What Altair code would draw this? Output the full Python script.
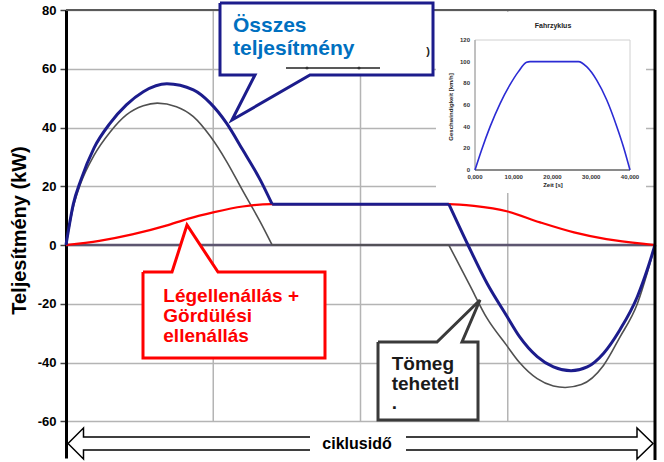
import altair as alt
import pandas as pd

FONT = "Liberation Sans"

# ---------------- data ----------------
# time within one driving cycle (s) and power (kW)
total_t = [0, 0.5, 1.0, 1.9, 3.0, 4.1, 5.25, 6.85, 8.65, 9.8, 10.9, 12.0, 13.2, 14.0,
           26.0, 27.3, 28.6, 29.9, 30.8, 32.0, 33.1, 34.3, 35.4, 36.5, 37.6, 38.8, 39.5, 40]
total_kw = [0, 14, 22, 33, 41.5, 47.7, 52.2, 54.9, 52.8, 48.3, 41.5, 32.4, 22.1, 13.9,
            13.9, 0, -13.1, -23.9, -31.2, -38, -41.5, -42.8, -41.5, -36.9, -29, -17.6, -8, 0]

inertia_t = [0, 0.5, 1.0, 1.9, 3.0, 4.1, 5.25, 6.2, 7.5, 8.65, 9.8, 10.9, 12.0, 13.2, 14.0,
             26.0, 27.4, 28.6, 29.9, 30.8, 32.0, 33.1, 33.9, 35.0, 36.5, 37.6, 38.8, 39.5, 40]
inertia_kw = [0, 13, 21, 30.5, 38.5, 44.3, 47.4, 48.3, 47.1, 43.7, 37, 28.5, 18.5, 7.8, 0,
              0, -13.5, -25, -34, -40, -45.5, -48, -48.5, -47.5, -41, -31.5, -20, -9, 0]

resist_t = [0, 2.26, 4.5, 6.8, 8.26, 10.0, 12.0, 13.9, 26.0, 27.7, 30.0, 32.2, 34.5, 36.7, 39.4, 40]
resist_kw = [0, 1.4, 3.6, 6.6, 8.9, 11.1, 13.1, 13.9, 13.9, 13.3, 11.4, 7.7, 4.3, 2.0, 0.3, 0]

corner_t = [14.0, 26.0]          # sharp corners at start / end of the constant-speed phase
y_ticks = [-60, -40, -20, 0, 20, 40, 60, 80]
x_grid = [10, 20, 30]

# inset "Fahrzyklus": speed profile
cycle_s = [0, 1.7, 3.9, 6.5, 9.0, 11.2, 13.3, 14.2, 26.7, 28.8, 31.4, 34.0, 36.6, 38.3, 40]
speed_kmh = [0, 18.5, 40, 61.5, 78.5, 90.8, 99.4, 100, 100, 95.4, 83, 64.6, 40, 21.5, 0]
inset_speed_ticks = [0, 20, 40, 60, 80, 100, 120]
inset_time_ticks = [0, 10, 20, 30, 40]
inset_time_labels = ["0,000", "10,000", "20,000", "30,000", "40,000"]

# annotation texts
total_label = ["Összes", "teljesítmény"]
resist_label = ["Légellenállás +", "Gördülési", "ellenállás"]
inertia_label = ["Tömeg", "tehetetl", "."]
cycle_label = "ciklusidő"
y_title = "Teljesítmény (kW)"

# ---------------- scales ----------------
X = alt.Scale(domain=[0, 40], nice=False, zero=False)
Y = alt.Scale(domain=[-72.5, 80], nice=False, zero=False)
IX = alt.Scale(domain=[0, 40], range=[409, 564], nice=False, zero=False)
IY = alt.Scale(domain=[0, 120], range=[160, 30], nice=False, zero=False)


def xq(f):
    return alt.X(f, type="quantitative", scale=X, axis=None)


def yq(f, axis=None):
    return alt.Y(f, type="quantitative", scale=Y, axis=axis)


def split(ts, vs, breaks):
    rows, part = [], 0
    for t, v in zip(ts, vs):
        rows.append({"t": t, "kw": v, "part": part})
        if t in breaks:
            part += 1
            rows.append({"t": t, "kw": v, "part": part})
    return pd.DataFrame(rows)


y_axis = alt.Axis(
    values=y_ticks, grid=True, gridColor="#b4b4b4", gridWidth=1.5, orient="left",
    labelExpr="'' + datum.value",
    domainColor="black", domainWidth=3, tickColor="#444", tickWidth=1.5, tickSize=6,
    labelFont=FONT, labelFontSize=13, labelFontWeight="bold", labelColor="black", labelPadding=4,
    title=y_title, titleFont=FONT, titleFontSize=20, titleFontWeight="bold", titleColor="black",
    titleAngle=270, titleX=-47, titleY=220, titleAlign="center", titleBaseline="middle",
)

one = pd.DataFrame({"k": [0]})

# y axis + horizontal grid (drawn first, underneath everything)
axis_layer = alt.Chart(pd.DataFrame({"v": y_ticks})).mark_point(opacity=0).encode(
    x=alt.value(0), y=yq("v", y_axis))

# vertical grid
vgrid = alt.Chart(pd.DataFrame({"g": x_grid, "top": 80, "bot": -60})).mark_rule(
    color="#b4b4b4", strokeWidth=1.5).encode(x=xq("g"), y=yq("top"), y2="bot:Q")
top_rule = alt.Chart(pd.DataFrame({"a": [0], "b": [40], "v": [80]})).mark_rule(
    color="#5a5a5a", strokeWidth=2).encode(x=xq("a"), x2="b:Q", y=yq("v"))
right_rule = alt.Chart(pd.DataFrame({"a": [40], "v0": [80], "v1": [-73.2]})).mark_rule(
    color="black", strokeWidth=3).encode(x=xq("a"), y=yq("v0"), y2="v1:Q")
zero_rule = alt.Chart(pd.DataFrame({"a": [0], "b": [40], "v": [0]})).mark_rule(
    color="#5d5670", strokeWidth=2.5).encode(x=xq("a"), x2="b:Q", y=yq("v"))

gray = alt.Chart(split(inertia_t, inertia_kw, corner_t)).mark_line(
    color="#505050", strokeWidth=1.6, interpolate="monotone").encode(
    x=xq("t"), y=yq("kw"), detail="part:N")
red = alt.Chart(split(resist_t, resist_kw, [])).mark_line(
    color="#ff0000", strokeWidth=2.2, interpolate="monotone").encode(
    x=xq("t"), y=yq("kw"), detail="part:N")
blue = alt.Chart(split(total_t, total_kw, corner_t)).mark_line(
    color="#1c1c8c", strokeWidth=3, interpolate="monotone").encode(
    x=xq("t"), y=yq("kw"), detail="part:N")


# ---------------- callouts (geometry in data units) ----------------
def callout(box, tri, poly, color):
    x0, x1, y0, y1 = box
    rect = alt.Chart(pd.DataFrame({"x0": [x0], "x1": [x1], "y0": [y0], "y1": [y1]})).mark_rect(
        color="white").encode(x=xq("x0"), x2="x1:Q", y=yq("y0"), y2="y1:Q")
    tdf = pd.DataFrame({"x": [p[0] for p in tri], "y": [p[1] for p in tri], "y2": [p[2] for p in tri]})
    area = alt.Chart(tdf).mark_area(color="white", interpolate="linear").encode(
        x=xq("x"), y=yq("y"), y2="y2:Q")
    pdf = pd.DataFrame({"x": [p[0] for p in poly], "y": [p[1] for p in poly], "i": list(range(len(poly)))})
    line = alt.Chart(pdf).mark_line(color=color, strokeWidth=3, strokeJoin="miter").encode(
        x=xq("x"), y=yq("y"), order="i:Q")
    return [rect, area, line]


total_box = (10.458, 24.924, 82.383, 57.872)
total_tri = [(11.273, 42.553, 42.553), (12.835, 57.872, 47.070), (16.570, 57.872, 57.872)]
total_poly = [(10.458, 82.383), (24.924, 82.383), (24.924, 57.872), (16.570, 57.872),
              (11.273, 42.553), (12.835, 57.872), (10.458, 57.872), (10.458, 82.383)]

resist_box = (5.229, 17.589, -9.191, -38.468)
resist_tri = [(7.199, -9.191, -9.191), (8.217, 6.809, -9.191), (10.323, -9.191, -9.191)]
resist_poly = [(5.229, -9.191), (7.199, -9.191), (8.217, 6.809), (10.323, -9.191),
               (17.589, -9.191), (17.589, -38.468), (5.229, -38.468), (5.229, -9.191)]

inertia_box = (21.189, 27.980, -33.021, -59.574)
inertia_tri = [(25.195, -33.021, -33.021), (26.893, -24.707, -33.021), (28.115, -18.723, -18.723)]
inertia_poly = [(21.189, -33.021), (25.195, -33.021), (28.115, -18.723), (26.893, -33.021),
                (27.980, -33.021), (27.980, -59.574), (21.189, -59.574), (21.189, -33.021)]


def text_rows(lines, x, ys, color, size):
    df = pd.DataFrame({"x": [x] * len(lines), "y": ys, "txt": lines})
    return alt.Chart(df).mark_text(align="left", baseline="alphabetic", font=FONT,
                                   fontSize=size, fontWeight="bold", color=color).encode(
        x=xq("x"), y=yq("y"), text="txt:N")


total_text = text_rows(total_label, 11.341, [72.511, 64.681], "#0070c0", 21)
resist_text = text_rows(resist_label, 6.608, [-19.30, -26.11, -32.92], "#ff0000", 19)
inertia_text = text_rows(inertia_label, 22.119, [-42.55, -49.36, -55.83], "#1a1a1a", 19)

# stray legend fragment inside the "Összes" box
frag_line = alt.Chart(one).mark_rule(color="#222", strokeWidth=1.5).encode(
    x=alt.value(220), x2=alt.value(314), y=alt.value(58))
frag_dots = alt.Chart(pd.DataFrame({"px": [241, 293]})).mark_point(
    filled=True, color="#222", size=10).encode(x=alt.X("px:Q", scale=None, axis=None), y=alt.value(58))
frag_par = alt.Chart(one).mark_text(text=")", font=FONT, fontSize=11, fontWeight="bold",
                                    color="#222").encode(x=alt.value(362), y=alt.value(42))

# ---------------- bottom double arrow ----------------
arrow_fill_df = pd.DataFrame({
    "x": [0.136, 1.188, 1.188, 38.778, 38.778, 39.864],
    "y": [-67.574, -62.298, -65.362, -65.362, -62.298, -67.574],
    "y2": [-67.574, -72.851, -69.787, -69.787, -72.851, -67.574],
    "i": [0, 1, 2, 3, 4, 5]})
arrow_fill = alt.Chart(arrow_fill_df).mark_area(color="#fdfbe3", interpolate="linear").encode(
    x=xq("x"), y=yq("y"), y2="y2:Q", order="i:Q")
arrow_poly = [(0.136, -67.574), (1.188, -62.298), (1.188, -65.362), (38.778, -65.362),
              (38.778, -62.298), (39.864, -67.574), (38.778, -72.851), (38.778, -69.787),
              (1.188, -69.787), (1.188, -72.851), (0.136, -67.574)]
arrow_line = alt.Chart(pd.DataFrame({"x": [p[0] for p in arrow_poly], "y": [p[1] for p in arrow_poly],
                                     "i": list(range(len(arrow_poly)))})).mark_line(
    color="black", strokeWidth=1.5, strokeJoin="miter").encode(x=xq("x"), y=yq("y"), order="i:Q")
cyc_box = alt.Chart(pd.DataFrame({"x0": [16.57], "x1": [23.09], "y0": [-64.68], "y1": [-70.47]})).mark_rect(
    color="white").encode(x=xq("x0"), x2="x1:Q", y=yq("y0"), y2="y1:Q")
cyc_text = alt.Chart(pd.DataFrame({"x": [19.762], "y": [-67.574], "txt": [cycle_label]})).mark_text(
    align="center", baseline="middle", font=FONT, fontSize=16, fontWeight="bold", color="black").encode(
    x=xq("x"), y=yq("y"), text="txt:N")

main_layers = [
    axis_layer, vgrid, zero_rule, gray, red, blue, top_rule, right_rule,
    *callout(total_box, total_tri, total_poly, "#1c1c8c"),
    *callout(resist_box, resist_tri, resist_poly, "#ff0000"),
    *callout(inertia_box, inertia_tri, inertia_poly, "#3a3a3a"),
    total_text, resist_text, inertia_text, frag_line, frag_dots, frag_par,
    arrow_fill, arrow_line, cyc_box, cyc_text,
]

# ---------------- inset chart ----------------
in_bg = alt.Chart(one).mark_rect(color="white").encode(
    x=alt.value(370), x2=alt.value(580), y=alt.value(2), y2=alt.value(183))
in_frame = alt.Chart(one).mark_rect(fill="white", stroke="#d0d0d0", strokeWidth=1).encode(
    x=alt.value(409), x2=alt.value(564), y=alt.value(30), y2=alt.value(160))
in_left = alt.Chart(one).mark_rule(color="#9a9a9a", strokeWidth=1).encode(
    x=alt.value(409), y=alt.value(30), y2=alt.value(160))
in_bottom = alt.Chart(one).mark_rule(color="#8a8a8a", strokeWidth=2).encode(
    x=alt.value(409), x2=alt.value(564), y=alt.value(160))
in_curve = alt.Chart(pd.DataFrame({"s": cycle_s, "v": speed_kmh})).mark_line(
    color="#2b2bd4", strokeWidth=1.6, interpolate="monotone").encode(
    x=alt.X("s:Q", scale=IX, axis=None), y=alt.Y("v:Q", scale=IY, axis=None))
in_ylab = alt.Chart(pd.DataFrame({"v": inset_speed_ticks, "lab": [str(v) for v in inset_speed_ticks]})).mark_text(
    align="right", baseline="middle", font=FONT, fontSize=6, fontWeight="bold", color="#333").encode(
    y=alt.Y("v:Q", scale=IY, axis=None), x=alt.value(404), text="lab:N")
in_xlab = alt.Chart(pd.DataFrame({"s": inset_time_ticks, "lab": inset_time_labels})).mark_text(
    align="center", baseline="middle", font=FONT, fontSize=6, fontWeight="bold", color="#333").encode(
    x=alt.X("s:Q", scale=IX, axis=None), y=alt.value(167), text="lab:N")
in_title = alt.Chart(one).mark_text(text="Fahrzyklus", font=FONT, fontSize=7, fontWeight="bold",
                                    color="#222").encode(x=alt.value(487), y=alt.value(16))
in_xt = alt.Chart(one).mark_text(text="Zeit [s]", font=FONT, fontSize=6, fontWeight="bold",
                                 color="#222").encode(x=alt.value(487), y=alt.value(175))
in_yt = alt.Chart(one).mark_text(text="Geschwindigkeit [km/h]", font=FONT, fontSize=6, fontWeight="bold",
                                 angle=270, color="#222").encode(x=alt.value(385), y=alt.value(97))

inset_layers = [in_bg, in_frame, in_left, in_bottom, in_curve, in_ylab, in_xlab, in_title, in_xt, in_yt]

chart = alt.layer(*main_layers, *inset_layers).resolve_scale(x="independent", y="independent").properties(
    width=589, height=448,
    padding={"left": 66, "top": 10, "right": 9, "bottom": 4},
    autosize=alt.AutoSizeParams(type="none"),
    background="white",
).configure_view(stroke=None)

chart.save("out.html", embed_options={"renderer": "svg", "actions": False})
